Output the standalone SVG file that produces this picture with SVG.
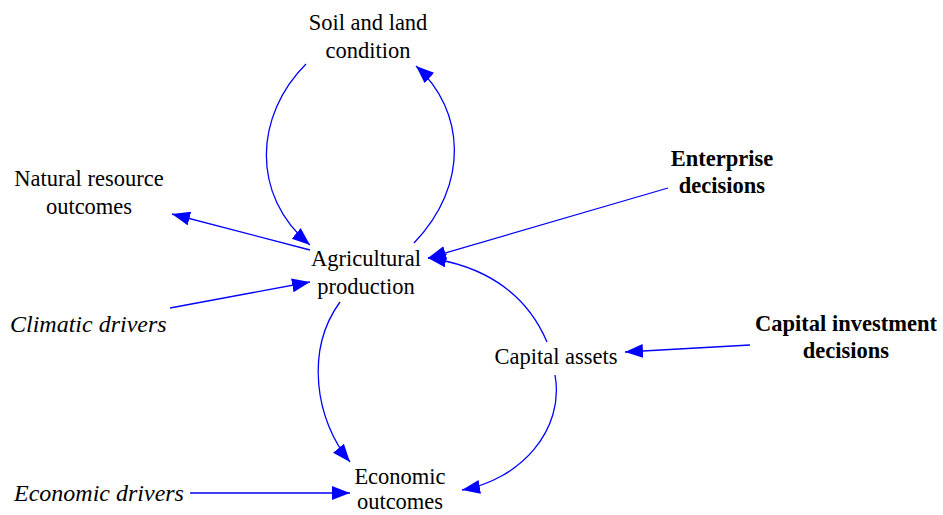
<svg xmlns="http://www.w3.org/2000/svg" width="943" height="515" viewBox="0 0 943 515">
<style>
text{font-family:"Liberation Serif","Times New Roman",serif;font-size:22.5px;fill:#000;text-anchor:middle}
.b{font-weight:bold}
.i{font-style:italic;text-anchor:start;font-size:24px}
.c{fill:none;stroke:#0000ff;stroke-width:1.3}
</style>
<defs>
<marker id="ah" markerUnits="userSpaceOnUse" markerWidth="20" markerHeight="16" refX="18" refY="7" orient="auto">
<path d="M0,0 L18,7 L0,14 z" fill="#0000ff"/>
</marker>
</defs>
<g id="soil"><text x="368" y="30">Soil and land</text><text x="368" y="58">condition</text></g>
<g id="natural"><text x="89" y="186">Natural resource</text><text x="89" y="214">outcomes</text></g>
<g id="agri"><text x="366" y="266">Agricultural</text><text x="366" y="294">production</text></g>
<g id="enterprise"><text class="b" x="722" y="166">Enterprise</text><text class="b" x="722" y="193">decisions</text></g>
<g id="climatic"><text class="i" x="10" y="332">Climatic drivers</text></g>
<g id="capital"><text x="556" y="364">Capital assets</text></g>
<g id="capinv"><text class="b" x="846" y="331">Capital investment</text><text class="b" x="846" y="358">decisions</text></g>
<g id="econ"><text x="400" y="484">Economic</text><text x="400" y="509">outcomes</text></g>
<g id="econdrivers"><text class="i" x="14" y="501">Economic drivers</text></g>
<g id="connectors">
<path class="c" d="M306,64 C255,115 250,195 310,245" marker-end="url(#ah)"/>
<path class="c" d="M414,243 C470,185 465,110 416,66" marker-end="url(#ah)"/>
<path class="c" d="M310,250 L172,214" marker-end="url(#ah)"/>
<path class="c" d="M170,308 L310,282" marker-end="url(#ah)"/>
<path class="c" d="M668,188 L428,258" marker-end="url(#ah)"/>
<path class="c" d="M547,342 C525,290 480,265 428,258" marker-end="url(#ah)"/>
<path class="c" d="M750,345 L625,352" marker-end="url(#ah)"/>
<path class="c" d="M555,375 C565,430 520,480 462,490" marker-end="url(#ah)"/>
<path class="c" d="M340,302 C305,350 315,420 350,462" marker-end="url(#ah)"/>
<path class="c" d="M190,493 L350,493" marker-end="url(#ah)"/>
</g>
</svg>
